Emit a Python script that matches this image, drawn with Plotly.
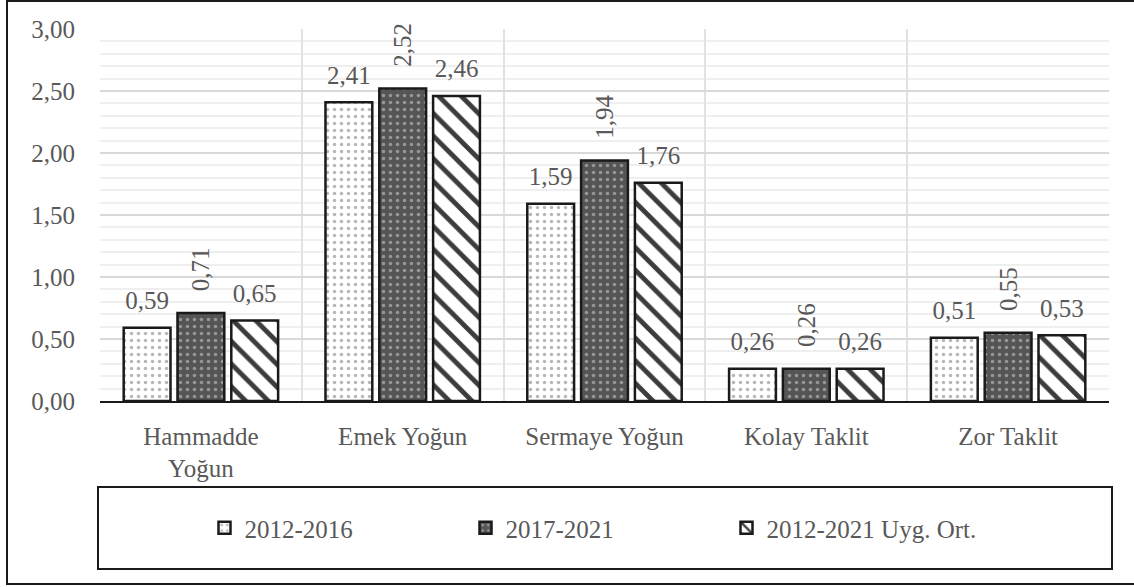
import plotly.graph_objects as go

categories = ["Hammadde<br>Yoğun", "Emek Yoğun", "Sermaye Yoğun", "Kolay Taklit", "Zor Taklit"]
series_names = ["2012-2016", "2017-2021", "2012-2021 Uyg. Ort."]
v_2012_2016 = [0.59, 2.41, 1.59, 0.26, 0.51]
v_2017_2021 = [0.71, 2.52, 1.94, 0.26, 0.55]
v_ortalama = [0.65, 2.46, 1.76, 0.26, 0.53]
y_ticks = [0, 0.5, 1.0, 1.5, 2.0, 2.5, 3.0]

FONT = "Liberation Serif"
FS = 25
TXT = "#595959"
W, H = 1134, 587
L, R, T, B = 100, 1109, 29, 401


def px(x):
    return (x - L) / (R - L)


def py(y):
    return (B - y) / (B - T)


def fmt(v):
    return f"{v:.2f}".replace(".", ",")


PAD = '<span style="color:rgba(0,0,0,0)">0,</span>'

fig = go.Figure()
styles = [
    dict(shape=".", bgcolor="#ffffff", fgcolor="#6f6f6f", size=7, solidity=0.2),
    dict(shape=".", bgcolor="#555555", fgcolor="#d8d8d8", size=7, solidity=0.2),
    dict(shape="\\", bgcolor="#ffffff", fgcolor="#3c3c3c", fgopacity=1, size=16, solidity=0.3),
]
all_vals = [v_2012_2016, v_2017_2021, v_ortalama]
for i, (name, vals, st) in enumerate(zip(series_names, all_vals, styles)):
    rotated = (i == 1)
    fig.add_trace(go.Bar(
        x=categories, y=vals, name=name,
        marker=dict(color=st["bgcolor"], pattern=st,
                    line=dict(color="#1a1a1a", width=2.5)),
        text=[PAD + fmt(v) for v in vals] if rotated else None,
        textposition="outside" if rotated else "none", textangle=-90,
        constraintext="none",
        textfont=dict(family=FONT, size=FS, color=TXT),
        cliponaxis=False,
    ))

# horizontal value labels, grouped like the bars
for i, (name, vals) in enumerate(zip(series_names, all_vals)):
    fig.add_trace(go.Scatter(
        x=categories, y=vals, mode="markers+text", showlegend=False, hoverinfo="skip",
        text=[fmt(v) for v in vals] if i != 1 else [""] * len(vals),
        textposition="top center",
        textfont=dict(family=FONT, size=FS, color=TXT),
        marker=dict(size=18, color="rgba(0,0,0,0)"),
        cliponaxis=False,
    ))

fig.update_layout(
    width=W, height=H,
    margin=dict(l=L, r=W - R, t=T, b=H - B),
    paper_bgcolor="white", plot_bgcolor="white",
    separators=",.",
    barmode="group", bargap=0.2, bargroupgap=0.13,
    scattermode="group", scattergap=0.2,
    font=dict(family=FONT, size=FS, color=TXT),
    showlegend=True,
    legend=dict(orientation="h", x=px(596), xanchor="center", y=py(528), yanchor="middle",
                font=dict(family=FONT, size=FS, color=TXT), itemwidth=30,
                entrywidth=216, bgcolor="rgba(0,0,0,0)"),
    xaxis=dict(tickson="boundaries", showgrid=True, gridcolor="#e2e2e2", gridwidth=2,
               showline=True, linecolor="#1a1a1a", linewidth=1.5, ticks="",
               ticklabelstandoff=12, tickfont=dict(family=FONT, size=FS, color=TXT)),
    yaxis=dict(range=[0, 3], tickvals=y_ticks, tickformat=".2f", showgrid=True,
               gridcolor="#d9d9d9", gridwidth=2, zeroline=False, ticks="",
               ticklabelstandoff=24, tickfont=dict(family=FONT, size=FS, color=TXT),
               minor=dict(dtick=0.1, showgrid=True, gridcolor="#efefef", gridwidth=1.5)),
    shapes=[
        dict(type="rect", xref="paper", yref="paper", x0=px(7), x1=px(1140), y0=py(1), y1=py(584),
             line=dict(color="#1a1a1a", width=2), fillcolor="rgba(0,0,0,0)", layer="above"),
        dict(type="rect", xref="paper", yref="paper", x0=px(98), x1=px(1112), y0=py(487), y1=py(569),
             line=dict(color="#1a1a1a", width=2), fillcolor="rgba(0,0,0,0)", layer="above"),
    ],
)

fig.write_html("out.html", config={"displayModeBar": False},
               post_script="document.body.style.margin='0';")
